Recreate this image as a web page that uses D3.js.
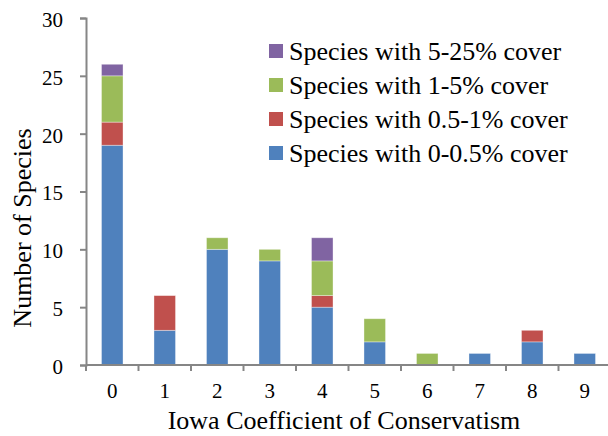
<!DOCTYPE html>
<html>
<head>
<meta charset="utf-8">
<script src="https://cdn.jsdelivr.net/npm/d3@7"></script>
<style>
  html, body { margin: 0; padding: 0; background: #fff; }
  svg text { font-family: "Liberation Serif", "Times New Roman", serif; fill: #000; }
</style>
</head>
<body>
<svg id="chart" width="608" height="436"></svg>
<script>
// Iowa coefficient of conservatism classes
const categories = ["0", "1", "2", "3", "4", "5", "6", "7", "8", "9"];

// Species counts per cover class
const cover0to05 = [19, 3, 10, 9, 5, 2, 0, 1, 2, 1];
const cover05to1 = [2, 3, 0, 0, 1, 0, 0, 0, 1, 0];
const cover1to5  = [4, 0, 1, 1, 3, 2, 1, 0, 0, 0];
const cover5to25 = [1, 0, 0, 0, 2, 0, 0, 0, 0, 0];

const seriesNames = [
  "Species with 0-0.5% cover",
  "Species with 0.5-1% cover",
  "Species with 1-5% cover",
  "Species with 5-25% cover"
];
const seriesColors = ["#4F81BD", "#C0504D", "#9BBB59", "#8064A2"];
const yTicks = [0, 5, 10, 15, 20, 25, 30];

const seriesValues = [cover0to05, cover05to1, cover1to5, cover5to25];
const rows = categories.map((c, i) => {
  const r = { cat: c };
  seriesNames.forEach((s, k) => { r[s] = seriesValues[k][i]; });
  return r;
});

const svg = d3.select("#chart");
const plotLeft = 86, plotRight = 611, plotTop = 18, plotBottom = 365;

const x = d3.scaleBand().domain(categories).range([plotLeft, plotRight]).paddingInner(0.59).paddingOuter(0.295);
const xEdges = d3.scaleLinear().domain([0, categories.length]).range([plotLeft, plotRight]);
const y = d3.scaleLinear().domain([0, 30]).range([plotBottom, plotTop]);

const stacked = d3.stack().keys(seriesNames)(rows);

// Bars
svg.append("g").selectAll("g")
  .data(stacked)
  .join("g")
  .attr("fill", (d, i) => seriesColors[i])
  .selectAll("rect")
  .data(d => d.filter(p => p[1] > p[0]))
  .join("rect")
  .attr("x", d => x(d.data.cat))
  .attr("width", x.bandwidth())
  .attr("y", d => y(d[1]))
  .attr("height", d => y(d[0]) - y(d[1]))
  .attr("stroke", "rgba(255,255,255,0.45)")
  .attr("stroke-width", 0.8);

const axisColor = "#868686";

// Y axis
const yAxis = svg.append("g")
  .attr("transform", `translate(${plotLeft},0)`)
  .call(d3.axisLeft(y).tickValues(yTicks).tickSize(6).tickPadding(17));
yAxis.select(".domain").attr("stroke", axisColor).attr("stroke-width", 2);
yAxis.selectAll(".tick line").attr("stroke", axisColor).attr("stroke-width", 2);
yAxis.selectAll(".tick text")
  .style("font-size", "21px")
  .attr("dy", "0.4em")
  .attr("fill", "#000");

// X axis: ticks sit on category boundaries, labels at band centers
const xg = svg.append("g").attr("transform", `translate(0,${plotBottom})`);
xg.append("line").attr("x1", plotLeft).attr("x2", 608).attr("stroke", axisColor).attr("stroke-width", 2);
xg.selectAll("line.tk")
  .data(d3.range(0, categories.length + 1))
  .join("line")
  .attr("class", "tk")
  .attr("x1", d => xEdges(d)).attr("x2", d => xEdges(d))
  .attr("y1", 0).attr("y2", 6)
  .attr("stroke", axisColor).attr("stroke-width", 2);
xg.selectAll("text")
  .data(categories)
  .join("text")
  .attr("x", d => x(d) + x.bandwidth() / 2)
  .attr("y", 33)
  .attr("text-anchor", "middle")
  .style("font-size", "21px")
  .text(d => d);

// Axis titles
svg.append("text")
  .attr("x", 344).attr("y", 429)
  .attr("text-anchor", "middle")
  .style("font-size", "26px")
  .text("Iowa Coefficient of Conservatism");
svg.append("text")
  .attr("transform", "translate(31,228) rotate(-90)")
  .attr("text-anchor", "middle")
  .style("font-size", "26px")
  .text("Number of Species");

// Legend (top entry is the top of the stack)
const legend = svg.append("g").attr("transform", "translate(269,44)");
const legendOrder = [3, 2, 1, 0];
legendOrder.forEach((k, i) => {
  const g = legend.append("g").attr("transform", `translate(0,${i * 34})`);
  g.append("rect").attr("width", 14).attr("height", 14).attr("fill", seriesColors[k]);
  g.append("text").attr("x", 20).attr("y", 16).style("font-size", "26px").text(seriesNames[k]);
});
</script>
</body>
</html>
